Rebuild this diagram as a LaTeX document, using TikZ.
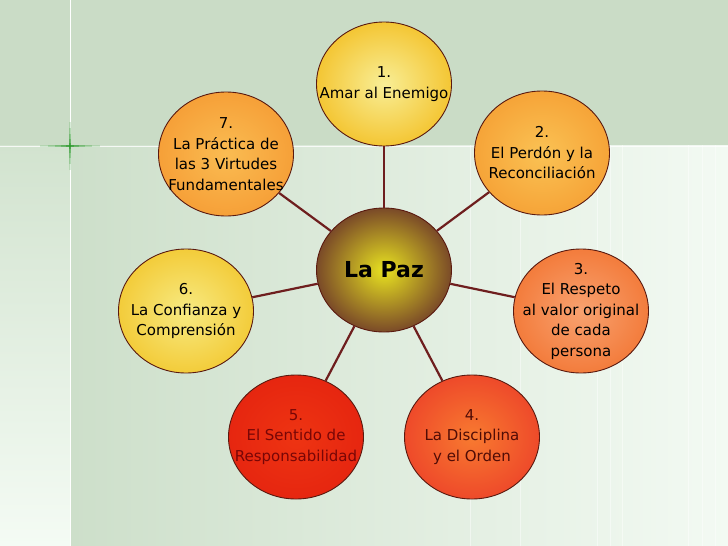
\documentclass[tikz,border=0pt]{standalone}
\usepackage{fontspec}
\setmainfont{DejaVu Sans}
\usetikzlibrary{shapes.geometric}
\definecolor{topband}{HTML}{CADCC6}
\definecolor{lowleft}{HTML}{CDDFCA}
\definecolor{lowmid}{HTML}{DFEBDC}
\definecolor{lowright}{HTML}{F3FAF3}
\definecolor{stripTop}{HTML}{D2E3CF}
\definecolor{stripBot}{HTML}{F4FBF4}
\definecolor{rimcol}{HTML}{5A1A10}
\definecolor{linkcol}{HTML}{6E1E1E}
\definecolor{sparkgreen}{HTML}{2E9A2E}
\tikzset{
  bubble/.style={ellipse, draw=rimcol, line width=0.9pt, minimum width=135pt, minimum height=124pt,
    inner sep=0pt, shading=radial},
  lbl/.style={inner sep=0pt, align=center, font=\fontsize{15}{20.5}\selectfont},
  hublbl/.style={inner sep=0pt, font=\fontsize{22}{26}\selectfont\bfseries},
  link/.style={draw=linkcol, line width=2.2pt},
  faint/.style={draw=white, line width=0.8pt, opacity=0.45}
}
\begin{document}
\begin{tikzpicture}[x=1pt,y=-1pt]
\useasboundingbox (0,0) rectangle (728,546);
% background
\fill[topband] (0,0) rectangle (728,145);
\shade[top color=stripTop, bottom color=stripBot] (0,145) rectangle (70,546);
\shade[left color=lowleft, middle color=lowmid, right color=lowright] (70,145) rectangle (728,546);
\foreach \xx in {597,610,622,688,702,715,520,470} {\draw[faint] (\xx,145) -- (\xx,546);}
\draw[white, line width=1pt] (70,0) -- (70,546);
\draw[white, line width=1pt, opacity=0.8] (0,146) -- (728,146);
% sparkle
\coordinate (spark) at (70,146);
\foreach \len/\op in {30/0.18,22/0.22,15/0.28,9/0.35,4/0.5} {
  \draw[sparkgreen, line width=1.4pt, opacity=\op] ([xshift=-\len pt]spark) -- ([xshift=\len pt]spark);
  \draw[sparkgreen, line width=1.4pt, opacity=\op] ([yshift=-0.8*\len pt]spark) -- ([yshift=0.8*\len pt]spark);
}
% nodes
\node[bubble, inner color={rgb,255:red,232;green,226;blue,32}, outer color={rgb,255:red,122;green,74;blue,40}] (paz) at (384,270) {};
\node[hublbl] (tpaz) at (paz) {La Paz};
\node[bubble, inner color={rgb,255:red,248;green,238;blue,150}, outer color={rgb,255:red,244;green,198;blue,52}] (n1) at (384,84) {};
\node[lbl] (t1) at (n1) {1.\\Amar al Enemigo};
\node[bubble, inner color={rgb,255:red,250;green,194;blue,84}, outer color={rgb,255:red,246;green,164;blue,56}] (n2) at (542,153) {};
\node[lbl] (t2) at (n2) {2.\\El Perdón y la\\Reconciliación};
\node[bubble, inner color={rgb,255:red,248;green,162;blue,112}, outer color={rgb,255:red,243;green,124;blue,60}] (n3) at (581,311) {};
\node[lbl] (t3) at (n3) {3.\\El Respeto\\al valor original\\de cada\\persona};
\node[bubble, inner color={rgb,255:red,248;green,122;blue,48}, outer color={rgb,255:red,238;green,74;blue,42}] (n4) at (472,437) {};
\node[lbl, text={rgb,255:red,80;green,12;blue,6}] (t4) at (n4) {4.\\La Disciplina\\y el Orden};
\node[bubble, inner color={rgb,255:red,238;green,52;blue,18}, outer color={rgb,255:red,230;green,38;blue,16}] (n5) at (296,437) {};
\node[lbl, text={rgb,255:red,120;green,6;blue,6}] (t5) at (n5) {5.\\El Sentido de\\Responsabilidad};
\node[bubble, inner color={rgb,255:red,247;green,234;blue,130}, outer color={rgb,255:red,243;green,204;blue,58}] (n6) at (186,311) {};
\node[lbl] (t6) at (n6) {6.\\La Confianza y\\ Comprensión};
\node[bubble, inner color={rgb,255:red,250;green,188;blue,82}, outer color={rgb,255:red,246;green,160;blue,56}] (n7) at (226,154) {};
\node[lbl] (t7) at (n7) {7.\\La Práctica de\\las 3 Virtudes\\Fundamentales};
% connectors
\foreach \t in {n1,n2,n3,n4,n5,n6,n7} {\draw[link] (paz) -- (\t);}
\end{tikzpicture}
\end{document}
